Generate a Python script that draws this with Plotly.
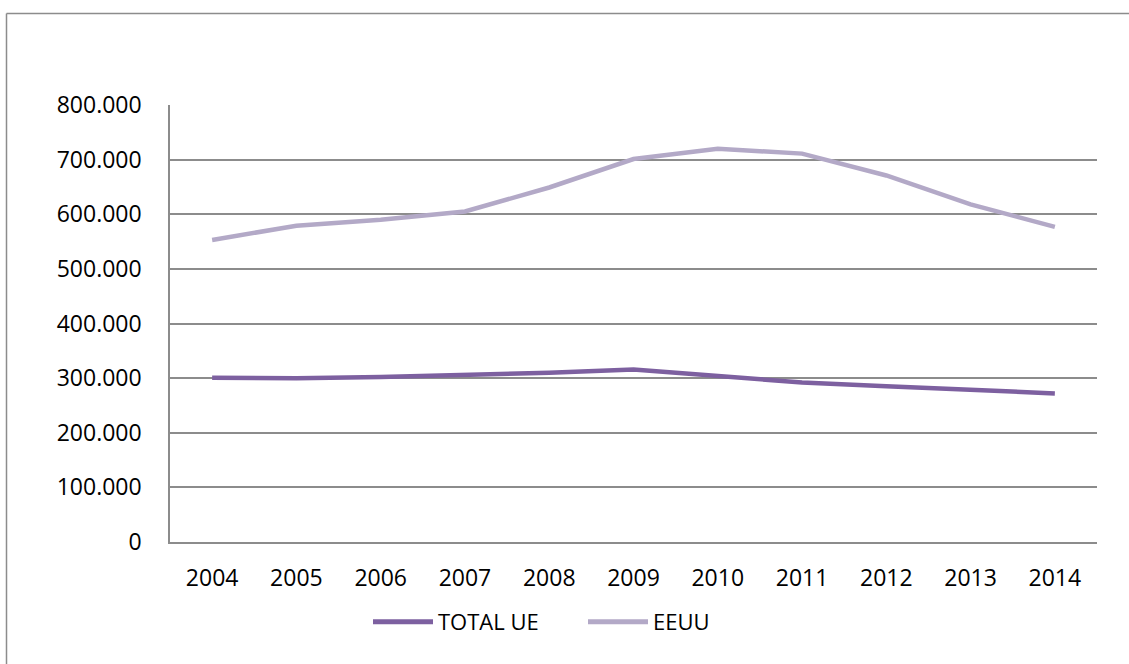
import plotly.graph_objects as go

years = ["2004", "2005", "2006", "2007", "2008", "2009", "2010", "2011", "2012", "2013", "2014"]
total_ue = [300500, 300000, 302000, 305000, 310000, 316000, 304000, 292000, 285000, 278000, 272000]
eeuu = [553000, 579000, 590000, 605000, 649000, 701000, 720000, 711000, 671000, 618000, 577000]

ytick_vals = [0, 100000, 200000, 300000, 400000, 500000, 600000, 700000, 800000]
ytick_text = ["0", "100.000", "200.000", "300.000", "400.000", "500.000", "600.000", "700.000", "800.000"]

FONT = "Open Sans"

fig = go.Figure()
fig.add_trace(go.Scatter(x=years, y=total_ue, mode="lines", name="TOTAL UE",
                         line=dict(color="#7D60A0", width=4.5)))
fig.add_trace(go.Scatter(x=years, y=eeuu, mode="lines", name="EEUU",
                         line=dict(color="#B3A9C7", width=4.5)))

L, R, T, B = 170, 32, 105, 122
W, H = 1129, 664
pw = W - L - R
ph = H - T - B

# outer chart border (cropped at right and bottom)
bx0 = (6.5 - L) / pw
by1 = (H - B - 13.5) / ph
fig.add_shape(type="line", xref="paper", yref="paper", x0=bx0, x1=1.2, y0=by1, y1=by1,
              line=dict(color="#8C8C8C", width=1.5))
fig.add_shape(type="line", xref="paper", yref="paper", x0=bx0, x1=bx0, y0=-0.5, y1=by1,
              line=dict(color="#8C8C8C", width=1.5))

fig.update_layout(
    width=W, height=H,
    margin=dict(l=L, r=R, t=T, b=B, pad=0),
    paper_bgcolor="white", plot_bgcolor="white",
    font=dict(family=FONT, size=23, color="#000000"),
    showlegend=True,
    legend=dict(orientation="h", x=(368 - L) / pw, y=-0.135, xanchor="left", yanchor="top",
                font=dict(family=FONT, size=22, color="#000000"),
                itemwidth=60, traceorder="normal", itemsizing="constant",
                entrywidth=140),
    xaxis=dict(type="category", showgrid=False, showline=True, linecolor="#8C8C8C",
               linewidth=1.5, ticks="", tickfont=dict(size=23), fixedrange=True,
               range=[-0.5, 10.5], zeroline=False, ticklabelstandoff=15),
    yaxis=dict(range=[0, 800000], tickvals=ytick_vals, ticktext=ytick_text,
               showgrid=True, gridcolor="#8C8C8C", gridwidth=1.5,
               showline=True, linecolor="#8C8C8C", linewidth=1.5,
               ticks="", ticklabelstandoff=22, tickfont=dict(size=23), zeroline=False),
)

fig.write_html("out.html")
